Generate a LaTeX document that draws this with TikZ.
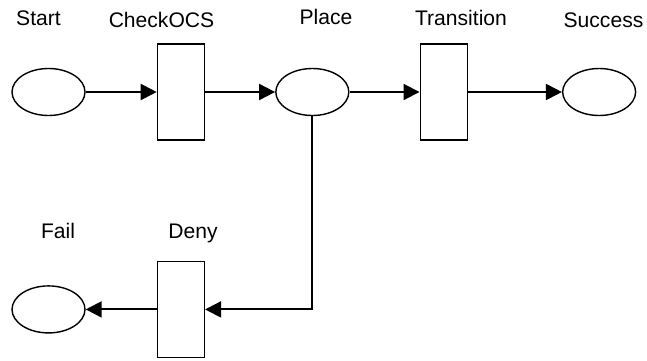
\documentclass[tikz,border=0pt]{standalone}
\usepackage{fontspec}
\setmainfont{Liberation Sans}
\usetikzlibrary{arrows.meta, positioning, shapes.geometric}

\begin{document}
\begin{tikzpicture}[
      font=\fontsize{15}{18}\selectfont,
      tempat/.style={draw=black, ellipse, line width=1pt, inner sep=0pt,
      minimum width=1.825cm, minimum height=1.175cm},
      transisi/.style={draw=black, rectangle, line width=1pt, inner sep=0pt,
      minimum width=1.175cm, minimum height=2.4cm},
      panah/.style={-{Triangle[length=4mm, width=4mm]}, line width=1.4pt},
      ket/.style={anchor=base, inner sep=0pt}
    ]
    \useasboundingbox (0,0) rectangle (16.175,-9);

    \node[tempat] (start) at (1.2125,-2.3) {};
    \node[transisi, right=1.775cm of start] (checkocs) {};
    \node[tempat, right=1.75cm of checkocs] (place) {};
    \node[transisi, right=1.75cm of place] (transition) {};
    \node[tempat, right=2.35cm of transition] (success) {};
    \node[transisi, below=3cm of checkocs] (deny) {};
    \node[tempat, left=1.775cm of deny] (fail) {};

    \node[ket] (lstart) at (0.9625,-0.625) {Start};
    \node[ket] (lcheckocs) at (4.0375,-0.675) {CheckOCS};
    \node[ket] (lplace) at (8.15,-0.6) {Place};
    \node[ket] (ltransition) at (11.525,-0.625) {Transition};
    \node[ket] (lsuccess) at (15.0875,-0.675) {Success};
    \node[ket] (lfail) at (1.45,-5.95) {Fail};
    \node[ket] (ldeny) at (4.825,-5.95) {Deny};

    \draw[panah] (start) -- (checkocs);
    \draw[panah] (checkocs) -- (place);
    \draw[panah] (place) -- (transition);
    \draw[panah] (transition) -- (success);
    \draw[panah] (place.south) |- (deny.east);
    \draw[panah] (deny) -- (fail);
  \end{tikzpicture}
\end{document}
